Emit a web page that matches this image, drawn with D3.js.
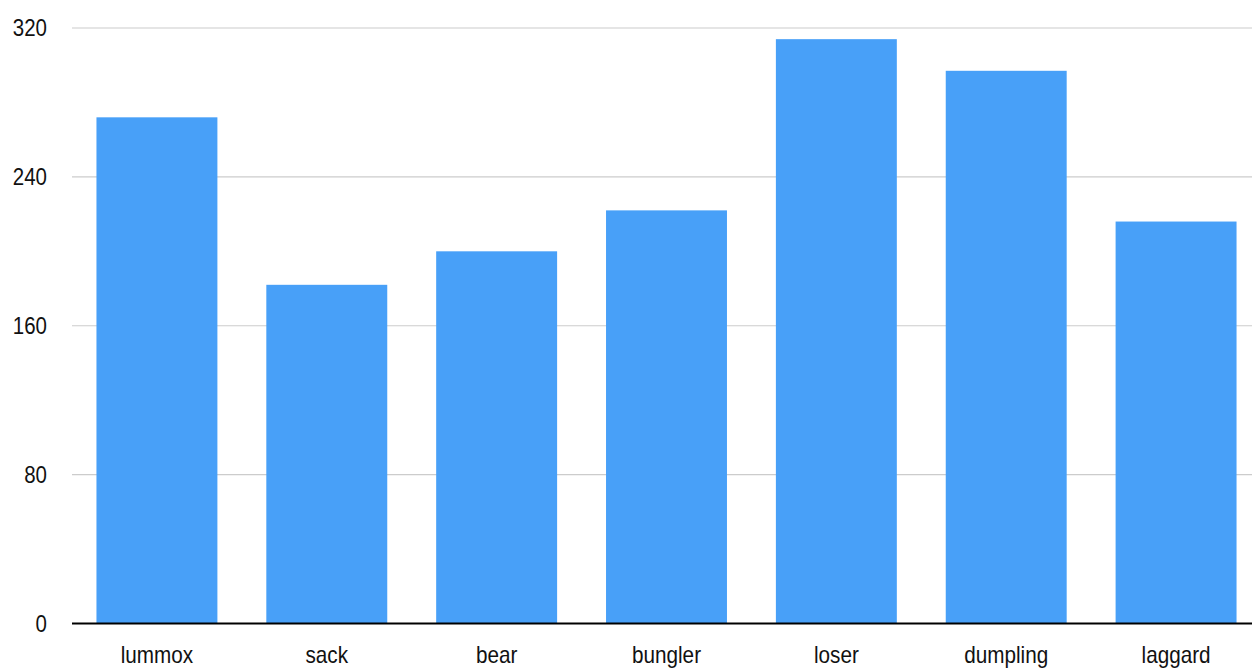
<!DOCTYPE html>
<html>
<head>
<meta charset="utf-8">
<script src="https://cdn.jsdelivr.net/npm/d3@7"></script>
<style>
  html, body { margin: 0; padding: 0; background: #fff; }
  svg { display: block; }
  text { font-family: "Liberation Sans", Arial, sans-serif; fill: #111; }
</style>
</head>
<body>
<svg id="chart" width="1252" height="668"></svg>
<script>
const categories = ["lummox", "sack", "bear", "bungler", "loser", "dumpling", "laggard"];
const values = [272, 182, 200, 222, 314, 297, 216];
const yTicks = [0, 80, 160, 240, 320];

const W = 1252, H = 668;
const svg = d3.select("#chart");

const x = d3.scaleBand()
  .domain(categories)
  .range([72, 1261])
  .paddingInner(0.288)
  .paddingOuter(0.144);

const y = d3.scaleLinear()
  .domain([0, 320])
  .range([623.5, 28]);

// horizontal gridlines
svg.append("g")
  .selectAll("line")
  .data(yTicks.filter(d => d !== 0))
  .join("line")
  .attr("x1", 72).attr("x2", W)
  .attr("y1", d => y(d)).attr("y2", d => y(d))
  .attr("stroke", "#cccccc")
  .attr("stroke-width", 1.2);

// y tick labels (condensed sans)
svg.append("g")
  .selectAll("g")
  .data(yTicks)
  .join("g")
  .attr("transform", d => `translate(47,${y(d) + 8})`)
  .append("text")
  .attr("transform", "scale(0.89,1)")
  .attr("text-anchor", "end")
  .attr("font-size", 23)
  .text(d => d);

// bars
svg.append("g")
  .selectAll("rect")
  .data(values)
  .join("rect")
  .attr("x", (d, i) => x(categories[i]))
  .attr("width", x.bandwidth())
  .attr("y", d => y(d))
  .attr("height", d => y(0) - y(d))
  .attr("fill", "#48a0f8");

// baseline
svg.append("line")
  .attr("x1", 72).attr("x2", W)
  .attr("y1", y(0)).attr("y2", y(0))
  .attr("stroke", "#000")
  .attr("stroke-width", 2);

// category labels
svg.append("g")
  .selectAll("g")
  .data(categories)
  .join("g")
  .attr("transform", d => `translate(${x(d) + x.bandwidth() / 2},663)`)
  .append("text")
  .attr("transform", "scale(0.9,1)")
  .attr("text-anchor", "middle")
  .attr("font-size", 23)
  .text(d => d);
</script>
</body>
</html>
